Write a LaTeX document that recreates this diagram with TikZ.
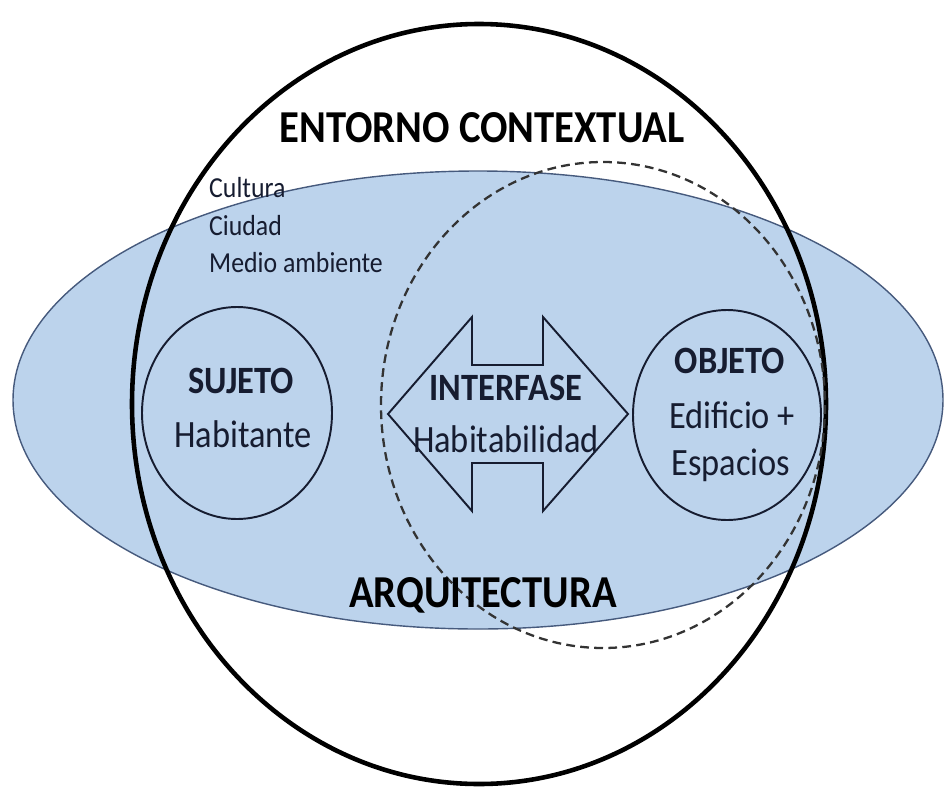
\documentclass[tikz,border=0pt]{standalone}
\usepackage{fontspec}
\setmainfont{Carlito}[FakeStretch=0.89]
\definecolor{fondo}{RGB}{188,211,236}
\definecolor{borde}{RGB}{70,90,125}
\definecolor{tinta}{RGB}{22,28,48}
\usepackage{tikz}

\begin{document}
\begin{tikzpicture}[x=0.02cm, y=-0.02cm,
  titulo/.style={anchor=base, text=black, font=\bfseries\fontsize{26}{30}\selectfont},
  nombre/.style={anchor=base, text=tinta, font=\bfseries\fontsize{22}{26}\selectfont},
  detalle/.style={anchor=base, text=tinta, font=\fontsize{22}{26}\selectfont},
  lista/.style={anchor=base west, text=tinta, font=\fontsize{16.5}{20}\selectfont},
  aro/.style={draw=tinta, line width=1.1pt}]
  \useasboundingbox (0,0) rectangle (949,791);
  %% Arquitectura (blue field)
  \filldraw[fill=fondo, draw=borde, line width=0.8pt] (478,400) ellipse [x radius=465, y radius=229];
  %% Entorno contextual
  \draw[black, line width=2.6pt] (479,404) ellipse [x radius=347, y radius=380];
  %% Interfase zone
  \draw[draw=black!80, line width=1.3pt, dash pattern=on 5pt off 3pt] (603,405) ellipse [x radius=222, y radius=243];

  %% Sujeto and objeto
  \draw[aro] (237,413) ellipse [x radius=95, y radius=106];
  \draw[aro] (727,415) ellipse [x radius=94, y radius=105];

  %% Double arrow
  \draw[draw=tinta, line width=1.1pt, line join=miter]
    (388,414) -- (472,317) -- (472,365) -- (543,365) -- (543,317) -- (628,414)
    -- (543,511) -- (543,463) -- (472,463) -- (472,511) -- cycle;

  %% Labels
  \node[titulo] (entorno) at (482,142) {ENTORNO CONTEXTUAL};
  \node[titulo] (arquitectura) at (483,607) {ARQUITECTURA};

  \node[lista] (cultura) at (203,197) {Cultura};
  \node[lista] (ciudad) at (203,235) {Ciudad};
  \node[lista] (medio) at (203,272) {Medio ambiente};

  \node[nombre] (sujeto) at (241,393) {SUJETO};
  \node[detalle] (habitante) at (243,447) {Habitante};

  \node[nombre] (interfase) at (506,400) {INTERFASE};
  \node[detalle] (habitabilidad) at (506,452) {Habitabilidad};

  \node[nombre] (objeto) at (730,373) {OBJETO};
  \node[detalle] (edificio) at (732,428) {Edificio +};
  \node[detalle] (espacios) at (731,475) {Espacios};
\end{tikzpicture}
\end{document}
